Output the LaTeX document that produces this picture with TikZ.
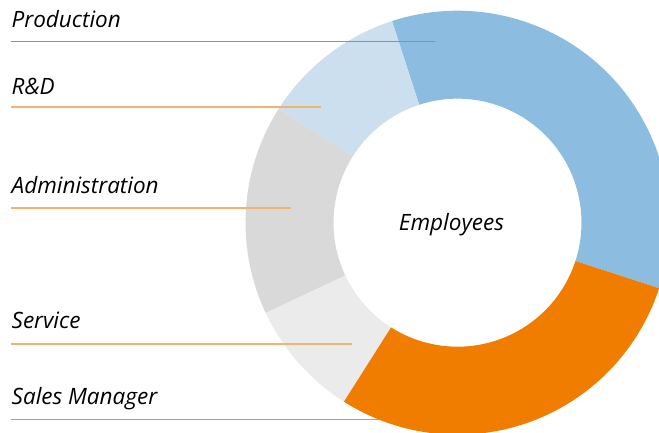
\documentclass[tikz,border=0pt]{standalone}
\usepackage{fontspec}
\setmainfont{Open Sans}
\usetikzlibrary{calc}
\definecolor{prodblue}{HTML}{8CBDE1}
\definecolor{rdblue}{HTML}{CBDFEE}
\definecolor{admgray}{HTML}{D9D9D9}
\definecolor{srvgray}{HTML}{EBEBEB}
\definecolor{salesor}{HTML}{F07D00}
\definecolor{darkline}{HTML}{D9822B}
\definecolor{lightline}{HTML}{F3B36C}
\definecolor{salesline}{HTML}{EF8C36}
\tikzset{
  lbl/.style={anchor=base west, inner sep=0pt, font=\fontsize{22.5}{26}\selectfont\itshape},
  leader/.style={line width=1.8pt, lightline},
}
\newcommand{\donutseg}[3]{%
  \fill[#3] ($(c)+(#1:212)$) arc[start angle=#1, end angle=#2, radius=212]
    -- ($(c)+(#2:124)$) arc[start angle=#2, end angle=#1, radius=124] -- cycle;}
\begin{document}
\begin{tikzpicture}[x=1pt,y=1pt]
\useasboundingbox (0,0) rectangle (659,432);
\clip (0,0) rectangle (659,432);
\coordinate (c) at (457.5,209.3);
\donutseg{-18}{108}{prodblue}
\donutseg{108}{147.6}{rdblue}
\donutseg{147.6}{205.2}{admgray}
\donutseg{205.2}{237.6}{srvgray}
\donutseg{237.6}{342}{salesor}
\node (emp) at (451.5,201.3) [anchor=base, inner sep=0pt, font=\fontsize{22.5}{26}\selectfont\itshape] {Employees};
\node[lbl] (prod) at (11.5,404.5) {Production};
\node[lbl] (rd) at (11.5,337.5) {R\&D};
\node[lbl] (adm) at (11.5,239) {Administration};
\node[lbl] (srv) at (11.5,103.5) {Service};
\node[lbl] (sales) at (11.5,27.5) {Sales Manager};
\coordinate (p1) at (11,390.5); \coordinate (p2) at (435,390.5);
\coordinate (r1) at (11,325); \coordinate (r2) at (321,325);
\coordinate (a1) at (11,224); \coordinate (a2) at (291,224);
\coordinate (s1) at (11,88); \coordinate (s2) at (351.5,88);
\coordinate (m1) at (11,12.5); \coordinate (m2) at (380,12.5);
\draw[line width=1.2pt, darkline] (p1) -- (p2);
\draw[leader] (r1) -- (r2);
\draw[leader] (a1) -- (a2);
\draw[leader] (s1) -- (s2);
\draw[line width=1.6pt, salesline] (m1) -- (m2);
\end{tikzpicture}
\end{document}
